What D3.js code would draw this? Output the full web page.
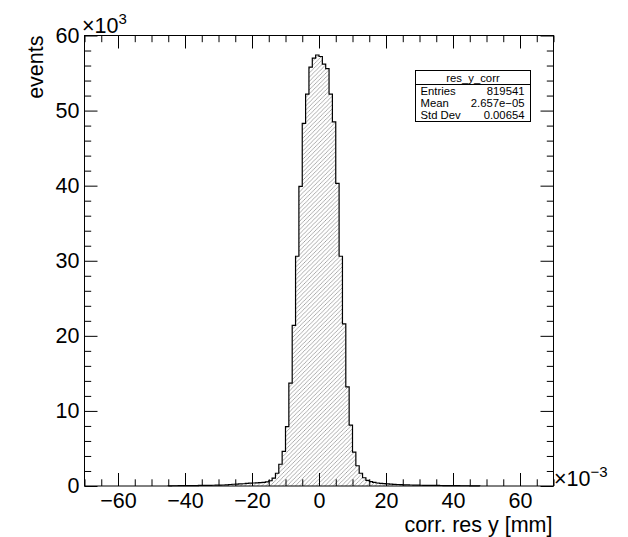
<!DOCTYPE html>
<html><head><meta charset="utf-8">
<script src="https://cdn.jsdelivr.net/npm/d3@7"></script>
<style>
body{margin:0;background:#fff}
svg{display:block}
text{font-family:"Liberation Sans",Arial,Helvetica,sans-serif;fill:#000}
</style>
</head><body>
<svg id="c" width="628" height="537"></svg>
<script>
// ---- data (x in units of 1e-3 mm, counts in events) ----
const binLow = -45;      // lower edge of first filled bin
const binWidth = 1;      // bin width
const counts = [
  20, 30, 30, 40, 40, 50, 50, 60, 60, 70,          // -45 .. -36
  70, 80, 90, 100, 110, 120, 130, 150, 200, 230,   // -35 .. -26
  250, 280, 300, 350, 380, 400, 420, 450, 480, 540,// -25 .. -16
  700, 1050, 1700, 2900, 4600, 7900, 13700, 21400, 30600, 39900, // -15 .. -6
  48300, 52200, 55800, 57000, 57400,               // -5 .. -1
  57200, 56200, 55600, 52200, 48500, 40300, 30600, 21600, 13200, 8100, // 0 .. 9
  4500, 2700, 1700, 1100, 750, 580, 470, 400, 350, 310, // 10 .. 19
  280, 250, 220, 200, 180, 160, 150, 130, 120, 110,    // 20 .. 29
  100, 90, 85, 80, 75, 70, 65, 60, 55, 50,             // 30 .. 39
  45, 40, 35, 30, 30, 25, 20, 20                       // 40 .. 47
];
const xDomain = [-70, 70];
const yDomain = [0, 60];          // in units of 1e3 events
const xMajor = [-60, -40, -20, 0, 20, 40, 60];
const yMajor = [0, 10, 20, 30, 40, 50, 60];
const xTitle = "corr. res y [mm]";
const yTitle = "events";
const statsTitle = "res_y_corr";
const statsLabels = ["Entries", "Mean", "Std Dev"];
const statsValues = ["819541", "2.657e\u221205", "0.00654"];

// ---- layout ----
const L = 84.5, R = 553.5, T = 35.5, B = 486;
const FS = 21.5;
const svg = d3.select("#c");
const x = d3.scaleLinear().domain(xDomain).range([L, R]);
const y = d3.scaleLinear().domain(yDomain).range([B, T]);

const xMinor = d3.range(xDomain[0], xDomain[1] + 0.001, 5).filter(v => !xMajor.includes(v));
const yMinor = d3.range(yDomain[0], yDomain[1] + 0.001, 2).filter(v => !yMajor.includes(v));

// hatch pattern
const defs = svg.append("defs");
const hw = 4.2;
const pat = defs.append("pattern").attr("id", "hatch")
  .attr("patternUnits", "userSpaceOnUse").attr("width", hw).attr("height", hw);
pat.append("path")
  .attr("d", `M0,${hw} L${hw},0 M${-hw/2},${hw/2} L${hw/2},${-hw/2} M${hw/2},${hw*1.5} L${hw*1.5},${hw/2}`)
  .attr("stroke", "#999").attr("stroke-width", 0.8);

// histogram path
let d = `M${x(binLow)},${y(0)}`;
counts.forEach((c, i) => {
  const x0 = binLow + i * binWidth;
  d += ` L${x(x0)},${y(c / 1000)} L${x(x0 + binWidth)},${y(c / 1000)}`;
});
d += ` L${x(binLow + counts.length * binWidth)},${y(0)}`;
svg.append("path").attr("d", d + " Z").attr("fill", "url(#hatch)").attr("stroke", "none");
svg.append("path").attr("d", d).attr("fill", "none").attr("stroke", "#000").attr("stroke-width", 1.2);

// axes
function styleAxis(g) {
  g.select(".domain").remove();
  g.selectAll("line").attr("stroke", "#000").attr("stroke-width", 1);
  g.selectAll("text").attr("font-size", FS).attr("font-family", '"Liberation Sans",Arial,sans-serif').attr("fill", "#000");
}
const fmt = d3.format("d");
svg.append("g").attr("transform", `translate(0,${B})`)
  .call(d3.axisBottom(x).tickValues(xMajor).tickSizeInner(-13).tickSizeOuter(0).tickPadding(7).tickFormat(fmt))
  .call(styleAxis);
svg.append("g").attr("transform", `translate(0,${B})`)
  .call(d3.axisBottom(x).tickValues(xMinor).tickSizeInner(-6.7).tickSizeOuter(0).tickFormat(""))
  .call(styleAxis);
svg.append("g").attr("transform", `translate(0,${T})`)
  .call(d3.axisTop(x).tickValues(xMajor).tickSizeInner(-13).tickSizeOuter(0).tickFormat(""))
  .call(styleAxis);
svg.append("g").attr("transform", `translate(0,${T})`)
  .call(d3.axisTop(x).tickValues(xMinor).tickSizeInner(-6.7).tickSizeOuter(0).tickFormat(""))
  .call(styleAxis);
svg.append("g").attr("transform", `translate(${L},0)`)
  .call(d3.axisLeft(y).tickValues(yMajor).tickSizeInner(-13).tickSizeOuter(0).tickPadding(5).tickFormat(fmt))
  .call(styleAxis);
svg.append("g").attr("transform", `translate(${L},0)`)
  .call(d3.axisLeft(y).tickValues(yMinor).tickSizeInner(-6.7).tickSizeOuter(0).tickFormat(""))
  .call(styleAxis);
svg.append("g").attr("transform", `translate(${R},0)`)
  .call(d3.axisRight(y).tickValues(yMajor).tickSizeInner(-13).tickSizeOuter(0).tickFormat(""))
  .call(styleAxis);
svg.append("g").attr("transform", `translate(${R},0)`)
  .call(d3.axisRight(y).tickValues(yMinor).tickSizeInner(-6.7).tickSizeOuter(0).tickFormat(""))
  .call(styleAxis);

// frame
svg.append("rect").attr("x", L).attr("y", T).attr("width", R - L).attr("height", B - T)
  .attr("fill", "none").attr("stroke", "#000").attr("stroke-width", 1);

// titles
svg.append("text").attr("x", R - 1).attr("y", 531.5).attr("text-anchor", "end")
  .attr("font-size", FS).text(xTitle);
svg.append("text").attr("transform", `translate(43,${T}) rotate(-90)`).attr("text-anchor", "end")
  .attr("font-size", FS).text(yTitle);

// exponent labels
const e1 = svg.append("text").attr("x", 82).attr("y", 33).attr("font-size", FS);
e1.append("tspan").text("\u00d710");
e1.append("tspan").attr("dy", -9).attr("font-size", 15).text("3");
const e2 = svg.append("text").attr("x", 554).attr("y", 486).attr("font-size", FS);
e2.append("tspan").text("\u00d710");
e2.append("tspan").attr("dy", -9).attr("font-size", 15).text("\u22123");

// stats box
const sx0 = 415.5, sx1 = 530.5, sy0 = 70.5, sy1 = 121.5, sh = 84.5;
const sb = svg.append("g");
sb.append("rect").attr("x", sx0).attr("y", sy0).attr("width", sx1 - sx0).attr("height", sy1 - sy0)
  .attr("fill", "#fff").attr("stroke", "#000").attr("stroke-width", 1);
sb.append("line").attr("x1", sx0).attr("x2", sx1).attr("y1", sh).attr("y2", sh).attr("stroke", "#000");
sb.append("text").attr("x", (sx0 + sx1) / 2).attr("y", 81.5).attr("text-anchor", "middle")
  .attr("font-size", 11.3).text(statsTitle);
const rowH = (sy1 - sh) / statsLabels.length;
statsLabels.forEach((lab, i) => {
  const yy = sh + rowH * (i + 0.5) + 4;
  sb.append("text").attr("x", 420.5).attr("y", yy).attr("font-size", 11.3).text(lab);
  sb.append("text").attr("x", 524.5).attr("y", yy).attr("text-anchor", "end").attr("font-size", 11.3).text(statsValues[i]);
});
</script>
</body></html>
